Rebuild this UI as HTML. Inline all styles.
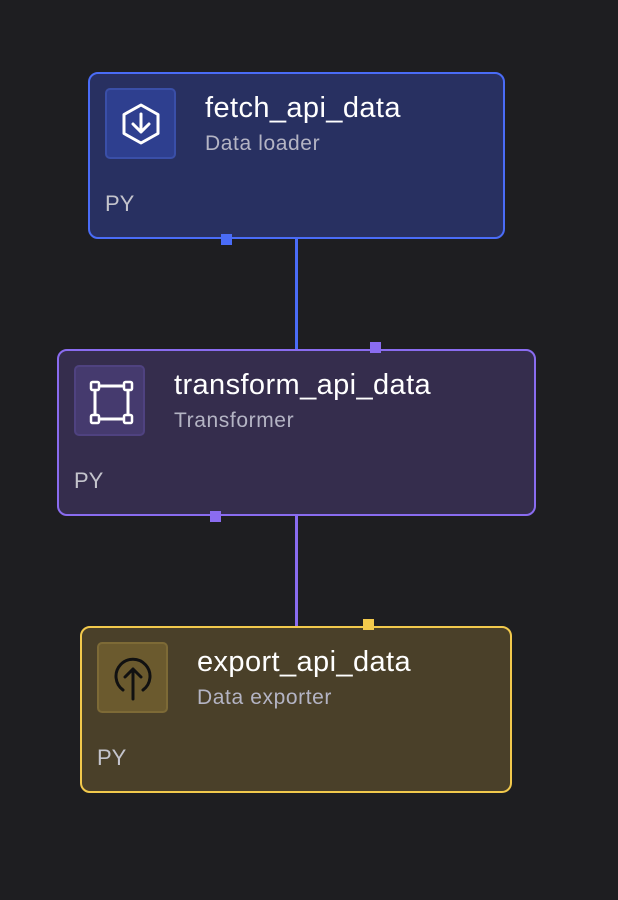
<!DOCTYPE html>
<html><head><style>
html,body{margin:0;padding:0;background:#1e1e21;width:618px;height:900px;overflow:hidden;font-family:"Liberation Sans",sans-serif;}
.n{position:absolute;box-sizing:border-box;border:2px solid;border-radius:10px;height:167px;}
.ic{position:absolute;left:15px;top:14px;width:71px;height:71px;border-radius:5px;box-sizing:border-box;border:2px solid;}
.ic svg{position:absolute;left:0;top:0;}
.t{position:absolute;left:115px;top:18px;color:#fff;font-size:29px;letter-spacing:0.4px;}
.s{position:absolute;left:115px;top:58px;color:#b4b4c4;font-size:21px;letter-spacing:0.6px;}
.py{position:absolute;left:15px;top:117px;color:#c4c4cc;font-size:22px;}
.l{position:absolute;left:295px;width:3px;}
.sq{position:absolute;width:11px;height:11px;}
</style></head><body>
<div class="l" style="top:238px;height:112px;background:#4a6cf7"></div>
<div class="l" style="top:515px;height:112px;background:#8a6cf0"></div>

<div class="n" style="left:88px;top:72px;width:417px;background:#283061;border-color:#4a6cf7">
<div class="ic" style="background:#2e3f8f;border-color:#3a4fa8"><svg width="67" height="67" viewBox="0 0 67 67"><path d="M34 15 L51 24.5 V43.5 L34 53 L17 43.5 V24.5 Z" fill="none" stroke="#fff" stroke-width="3" stroke-linejoin="round"/><path d="M34 24 V42 M26 34 L34 42 L42 34" fill="none" stroke="#fff" stroke-width="3" stroke-linecap="round" stroke-linejoin="round"/></svg></div>
<div class="t">fetch_api_data</div><div class="s">Data loader</div><div class="py">PY</div></div>

<div class="n" style="left:57px;top:349px;width:479px;background:#352d4d;border-color:#8a6cf0">
<div class="ic" style="background:#453a6e;border-color:#4f4280"><svg width="67" height="67" viewBox="0 0 67 67"><rect x="19" y="19" width="33" height="33" fill="none" stroke="#fff" stroke-width="3"/><g fill="#453a6e" stroke="#fff" stroke-width="2.5"><rect x="15" y="15" width="8" height="8" rx="1.5"/><rect x="48" y="15" width="8" height="8" rx="1.5"/><rect x="15" y="48" width="8" height="8" rx="1.5"/><rect x="48" y="48" width="8" height="8" rx="1.5"/></g></svg></div>
<div class="t">transform_api_data</div><div class="s">Transformer</div><div class="py">PY</div></div>

<div class="n" style="left:80px;top:626px;width:432px;background:#4a4029;border-color:#f2c94c">
<div class="ic" style="background:#6b5a2e;border-color:#7d6a36"><svg width="67" height="67" viewBox="0 0 67 67"><path d="M24 46 A17 17 0 1 1 44 46" fill="none" stroke="#111" stroke-width="3" stroke-linecap="round"/><path d="M34 55 V25 M26 33 L34 25 L42 33" fill="none" stroke="#111" stroke-width="3" stroke-linecap="round" stroke-linejoin="round"/></svg></div>
<div class="t">export_api_data</div><div class="s">Data exporter</div><div class="py">PY</div></div>

<div class="sq" style="left:221px;top:234px;background:#4a6cf7"></div>
<div class="sq" style="left:370px;top:342px;background:#8a6cf0"></div>
<div class="sq" style="left:210px;top:511px;background:#8a6cf0"></div>
<div class="sq" style="left:363px;top:619px;background:#f2c94c"></div>
</body></html>
